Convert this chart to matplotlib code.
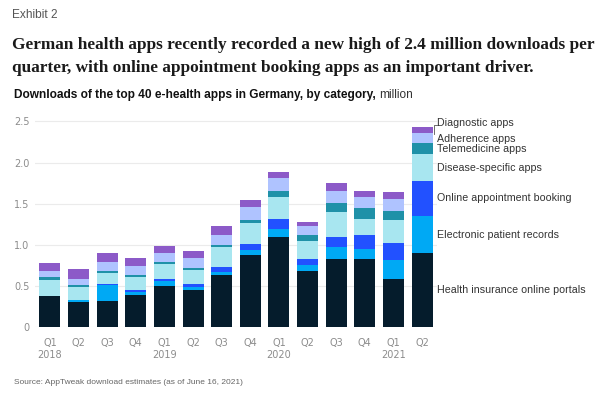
import matplotlib
matplotlib.use('Agg')
import matplotlib.pyplot as plt
import matplotlib.transforms as mtransforms
import numpy as np

# ---------------- data ----------------
quarters = ['Q1', 'Q2', 'Q3', 'Q4', 'Q1', 'Q2', 'Q3', 'Q4', 'Q1', 'Q2', 'Q3', 'Q4', 'Q1', 'Q2']
year_labels = ['2018', '', '', '', '2019', '', '', '', '2020', '', '', '', '2021', '']

categories = ['Health insurance online portals', 'Electronic patient records',
              'Online appointment booking', 'Disease-specific apps',
              'Telemedicine apps', 'Adherence apps', 'Diagnostic apps']

health_insurance = [0.38, 0.30, 0.32, 0.39, 0.50, 0.45, 0.63, 0.87, 1.10, 0.68, 0.83, 0.83, 0.58, 0.90]
electronic_records = [0.00, 0.03, 0.19, 0.03, 0.06, 0.035, 0.04, 0.07, 0.09, 0.075, 0.14, 0.12, 0.23, 0.45]
online_booking = [0.00, 0.00, 0.01, 0.03, 0.03, 0.035, 0.055, 0.07, 0.12, 0.07, 0.13, 0.17, 0.21, 0.43]
disease_specific = [0.195, 0.155, 0.135, 0.155, 0.175, 0.175, 0.245, 0.26, 0.275, 0.22, 0.30, 0.19, 0.285, 0.32]
telemedicine = [0.03, 0.03, 0.025, 0.03, 0.03, 0.025, 0.025, 0.03, 0.07, 0.07, 0.11, 0.135, 0.105, 0.14]
adherence = [0.075, 0.07, 0.11, 0.105, 0.105, 0.12, 0.125, 0.165, 0.155, 0.115, 0.15, 0.135, 0.15, 0.115]
diagnostic = [0.10, 0.12, 0.11, 0.10, 0.09, 0.09, 0.11, 0.08, 0.08, 0.05, 0.095, 0.08, 0.08, 0.075]

series = [health_insurance, electronic_records, online_booking, disease_specific,
          telemedicine, adherence, diagnostic]
colors = ['#051c2c', '#00a9f4', '#2251ff', '#a8e6f0', '#1f91a8', '#afc3ff', '#8c5ac8']
label_nudge = [0, 0, 0, 0, -0.01, -0.015, 0.09]

# ---------------- figure ----------------
W, H = 600, 397
fig = plt.figure(figsize=(W / 100, H / 100), dpi=100)
fig.patch.set_facecolor('white')

ax_left, ax_right = 35 / W, 437 / W
ax_bottom = 1 - 327 / H
ymax = 2.6
ax_top = 1 - (327 - ymax * 82.2) / H
ax = fig.add_axes([ax_left, ax_bottom, ax_right - ax_left, ax_top - ax_bottom])

x = np.arange(len(quarters))
bottom = np.zeros(len(quarters))
for vals, col in zip(series, colors):
    ax.bar(x, vals, bottom=bottom, width=0.73, color=col, linewidth=0, zorder=3)
    bottom += np.array(vals)

ax.set_xlim(-0.52, len(quarters) - 0.48)
ax.set_ylim(0, ymax)
ax.set_yticks([0, 0.5, 1.0, 1.5, 2.0, 2.5])
ax.set_yticklabels(['0', '0.5', '1.0', '1.5', '2.0', '2.5'])
ax.yaxis.grid(True, color='#ebebeb', linewidth=0.8, zorder=0)
ax.set_axisbelow(True)
for s in ax.spines.values():
    s.set_visible(False)
ax.tick_params(axis='both', length=0, colors='#8c8c8c', labelsize=7)
ax.tick_params(axis='y', pad=4)
ax.tick_params(axis='x', pad=8)
ax.set_xticks(x)
ax.set_xticklabels([q + '\n' + yl if yl else q + '\n ' for q, yl in zip(quarters, year_labels)],
                   linespacing=1.25, va='top')

# category labels beside last bar
trans = mtransforms.blended_transform_factory(fig.transFigure, ax.transData)
last = [s[-1] for s in series]
cum = np.cumsum([0] + last)
for i, name in enumerate(categories):
    mid = (cum[i] + cum[i + 1]) / 2 + label_nudge[i]
    ax.text(437 / W, mid, name, transform=trans, fontsize=7.7, color='#333333',
            va='center', ha='left', family='Liberation Sans')
# small leader for diagnostic apps
ax.plot([434 / W, 434 / W, 436.5 / W], [cum[6] - 0.01, cum[7] + 0.03, cum[7] + 0.03],
        transform=trans, color='#555555', lw=0.6, clip_on=False)

# ---------------- texts ----------------
fig.text(12 / W, 1 - 15 / H, 'Exhibit 2', fontsize=8.6, color='#555555',
         family='Liberation Sans', va='center', ha='left')
fig.text(12 / W, 1 - 45 / H, 'German health apps recently recorded a new high of 2.4 million downloads per',
         fontsize=12.4, fontweight='bold', family='Liberation Serif', color='#1a1a1a',
         va='center', ha='left')
fig.text(12 / W, 1 - 68 / H, 'quarter, with online appointment booking apps as an important driver.',
         fontsize=12.4, fontweight='bold', family='Liberation Serif', color='#1a1a1a',
         va='center', ha='left')
t = fig.text(14 / W, 1 - 95 / H, 'Downloads of the top 40 e-health apps in Germany, by category, ',
             fontsize=8.6, fontweight='bold', family='Liberation Sans', color='#111111',
             va='center', ha='left')
fig.canvas.draw()
bb = t.get_window_extent()
fig.text(bb.x1 / (W), 1 - 95 / H, 'million', fontsize=8.6, family='Liberation Sans',
         color='#333333', va='center', ha='left')
fig.text(14 / W, 1 - 382 / H, 'Source: AppTweak download estimates (as of June 16, 2021)',
         fontsize=6.0, family='Liberation Sans', color='#666666', va='center', ha='left')

fig.savefig('out.png', dpi=100, facecolor='white')
